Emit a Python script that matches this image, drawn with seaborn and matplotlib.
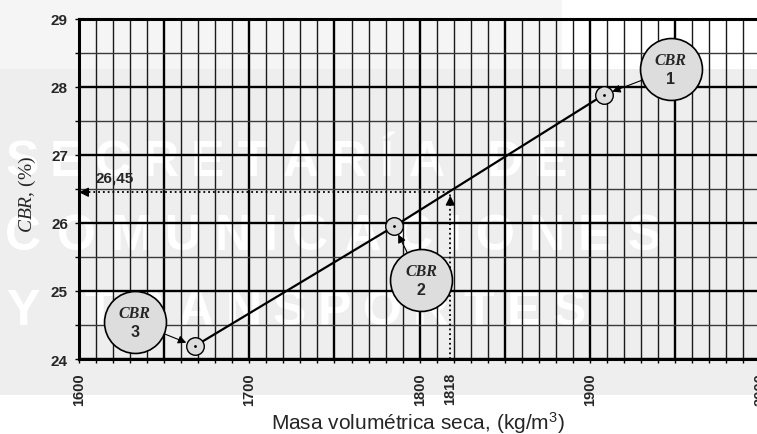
import matplotlib
matplotlib.use('Agg')
import matplotlib.pyplot as plt
import seaborn as sns
import pandas as pd
from matplotlib.ticker import MultipleLocator
from matplotlib.patches import Rectangle
from matplotlib.transforms import offset_copy
from matplotlib.textpath import TextPath
from matplotlib.font_manager import FontProperties

# ---------------- data ----------------
density = [1908, 1785, 1668]
cbr_values = [27.88, 25.95, 24.19]
point_labels = ['1', '2', '3']
target_density = 1818
target_cbr = 26.45
x_tick_values = [1600, 1700, 1800, 1818, 1900, 2000]
x_tick_labels = ['1600', '1700', '1800', '1818', '1900', '2000']
y_tick_values = [24, 25, 26, 27, 28, 29]
y_tick_labels = ['24', '25', '26', '27', '28', '29']
watermark_lines = ['SECRETARÍA DE', 'COMUNICACIONES', 'Y TRANSPORTES']

# ---------------- style ----------------
sns.set_style('white')
plt.rcParams['font.family'] = ['Liberation Sans', 'DejaVu Sans']
plt.rcParams['mathtext.fontset'] = 'custom'
plt.rcParams['mathtext.rm'] = 'Liberation Sans'
plt.rcParams['mathtext.it'] = 'Liberation Serif:italic'

W, H = 757, 435
fig = plt.figure(figsize=(W / 100, H / 100), dpi=100, facecolor='white')

# page background
fig.add_artist(Rectangle((0, 1 - 396 / H), 1, (396 - 70) / H, transform=fig.transFigure,
                         facecolor='#eeeeee', edgecolor='none', zorder=-10))
fig.add_artist(Rectangle((0, 1 - 70 / H), 562 / W, 70 / H, transform=fig.transFigure,
                         facecolor='#f5f5f5', edgecolor='none', zorder=-10))

# watermark (letter-spaced)
size_px = 50
fp = FontProperties(family='Liberation Sans', weight='bold', size=size_px * 72 / 100)
wm_layout = [(7, 565, 176), (7, 659, 250), (7, 584, 325)]
for text, (x0, x1, base) in zip(watermark_lines, wm_layout):
    widths, offs = [], []
    for ch in text:
        if ch == ' ':
            widths.append(0.28 * size_px)
            offs.append(0)
        else:
            ext = TextPath((0, 0), ch, size=size_px, prop=fp).get_extents()
            widths.append(ext.width)
            offs.append(ext.x0)
    track = (x1 - x0 - sum(widths)) / (len(text) - 1)
    cur = x0
    for ch, w, o in zip(text, widths, offs):
        if ch != ' ':
            fig.text((cur - o) / W, 1 - base / H, ch, fontproperties=fp, color='white',
                     ha='left', va='baseline', zorder=-5)
        cur += w + track

# ---------------- axes ----------------
ax = fig.add_axes([79 / W, 1 - 360 / H, (760.3 - 79) / W, (360 - 19.7) / H])
ax.set_facecolor('none')

df = pd.DataFrame({'density': density, 'cbr': cbr_values, 'label': point_labels})
sns.lineplot(data=df, x='density', y='cbr', color='black', linewidth=1.6, ax=ax,
             zorder=3, sort=True)
sns.scatterplot(data=df, x='density', y='cbr', s=160, color='#dddddd', edgecolor='black',
                linewidth=1, ax=ax, zorder=4)
ax.plot(df['density'], df['cbr'], ls='none', marker='o', ms=1.0, color='black', zorder=5)

ax.set_xlim(1600, 2000)
ax.set_ylim(24, 29)
ax.set_xlabel('')
ax.set_ylabel('')

# interpolation lines
ax.plot([1600, target_density], [target_cbr, target_cbr], ls=':', color='black', lw=1.3, zorder=2.5)
ax.plot([target_density, target_density], [24, target_cbr], ls=':', color='black', lw=1.3, zorder=2.5)
ax.annotate('', xy=(1600, target_cbr), xytext=(7, 0), textcoords='offset points',
            arrowprops=dict(arrowstyle='-|>', color='black', lw=1, shrinkA=0, shrinkB=0,
                            mutation_scale=14), zorder=5)
ax.annotate('', xy=(target_density, target_cbr - 0.05), xytext=(0, -7), textcoords='offset points',
            arrowprops=dict(arrowstyle='-|>', color='black', lw=1, shrinkA=0, shrinkB=0,
                            mutation_scale=14), zorder=5)
ax.annotate(f'{target_cbr:.2f}'.replace('.', ','), xy=(1600, target_cbr), xytext=(12.2, 8.0),
            textcoords='offset points', fontsize=11, fontweight='bold', ha='left', va='baseline')

# bubbles
bubble_offsets = {'1': (48.2, 18.5), '2': (19.4, -38.9), '3': (-43.2, 17.3)}
for x, y, lab in zip(df['density'], df['cbr'], df['label']):
    dx, dy = bubble_offsets[lab]
    tr = offset_copy(ax.transData, fig=fig, x=dx, y=dy, units='points')
    ax.plot([x], [y], marker='o', ms=44.6, mfc='#dddddd', mec='black', mew=1.2,
            transform=tr, zorder=6, clip_on=False)
    ax.text(x, y, 'CBR', transform=offset_copy(ax.transData, fig=fig, x=dx, y=dy + 6.5, units='points'),
            ha='center', va='center', family='Liberation Serif', style='italic', weight='bold',
            fontsize=11.5, zorder=7)
    ax.text(x, y, lab, transform=offset_copy(ax.transData, fig=fig, x=dx, y=dy - 6.5, units='points'),
            ha='center', va='center', weight='bold', fontsize=11.5, zorder=7)
    ax.annotate('', xy=(x, y), xytext=(dx, dy), textcoords='offset points',
                arrowprops=dict(arrowstyle='-|>', color='black', lw=0.8, shrinkA=22.3,
                                shrinkB=6.6, mutation_scale=12), zorder=5)

# ticks and grid
ax.xaxis.set_major_locator(MultipleLocator(50))
ax.xaxis.set_minor_locator(MultipleLocator(10))
ax.set_yticks(y_tick_values)
ax.set_yticklabels(y_tick_labels, fontweight='bold', fontsize=11)
ax.yaxis.set_minor_locator(MultipleLocator(0.5))
ax.tick_params(axis='x', which='both', direction='out', length=3, width=1,
               labelbottom=False, bottom=True, color='black')
ax.tick_params(axis='y', which='both', direction='out', length=3, width=1, left=True,
               pad=5, color='black')
ax.grid(True, which='major', axis='x', color='black', lw=1.7)
ax.grid(True, which='minor', axis='x', color='#1a1a1a', lw=1.0)
ax.grid(True, which='major', axis='y', color='black', lw=1.7)
ax.grid(True, which='minor', axis='y', color='#3a3a3a', lw=1.0)
ax.set_axisbelow(True)
for s in ['top', 'left', 'bottom', 'right']:
    ax.spines[s].set_linewidth(2.2)
    ax.spines[s].set_color('black')
    ax.spines[s].set_visible(True)

sec = ax.secondary_xaxis('bottom')
sec.set_xticks(x_tick_values, labels=x_tick_labels)
sec.tick_params(axis='x', length=0, pad=9.5, labelsize=10.5, labelrotation=90)
for t in sec.get_xticklabels():
    t.set_fontweight('bold')
sec.spines['bottom'].set_visible(False)

# axis titles
fig.text(27.5 / W, 1 - 194 / H, r'$\mathit{CBR}$, (%)', rotation=90, ha='center', va='center',
         family='Liberation Serif', fontsize=14)
fig.text(417.5 / W, 1 - 430 / H, r'Masa volumétrica seca, (kg/m$^3$)', ha='center',
         va='baseline', fontsize=15)

fig.savefig('out.png', dpi=100)
